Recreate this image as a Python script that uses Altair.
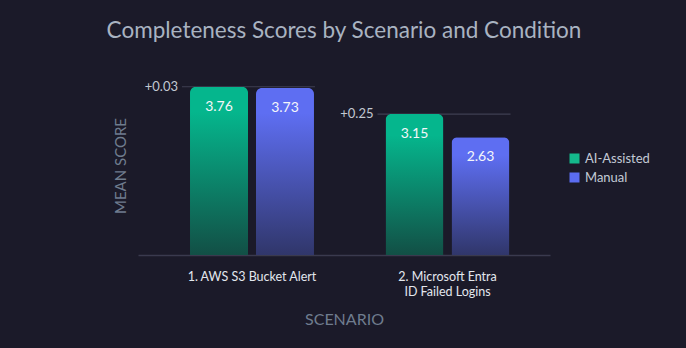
import altair as alt
import pandas as pd

scenarios = ["1. AWS S3 Bucket Alert", "2. Microsoft Entra ID Failed Logins"]
scenario_lines = [["1. AWS S3 Bucket Alert"], ["2. Microsoft Entra", "ID Failed Logins"]]
conditions = ["AI-Assisted", "Manual"]
ai_scores = [3.76, 3.15]
manual_scores = [3.73, 2.63]
delta_labels = ["+0.03", "+0.25"]

FONT = "Lato"
BG = "#1b1a29"
solid_colors = ["#14b88b", "#5b6cf0"]
grad_top = {"AI-Assisted": "#05b68d", "Manual": "#5e6ef2"}
grad_bot = {"AI-Assisted": "#124f45", "Manual": "#30366a"}

rows = []
for s, a, m in zip(scenarios, ai_scores, manual_scores):
    rows.append({"scenario": s, "condition": "AI-Assisted", "score": a})
    rows.append({"scenario": s, "condition": "Manual", "score": m})
df = pd.DataFrame(rows)

ddf = pd.DataFrame({
    "scenario": scenarios,
    "top": [max(a, m) for a, m in zip(ai_scores, manual_scores)],
    "delta": delta_labels,
})

label_expr = " : ".join(
    [f"datum.label == '{s}' ? {lines!r}" for s, lines in zip(scenarios, scenario_lines)]
) + " : datum.label"

x_enc = alt.X(
    "scenario:N", sort=scenarios,
    scale=alt.Scale(paddingInner=0.1, paddingOuter=0.1036, align=0.642),
    axis=alt.Axis(
        title="SCENARIO", labelAngle=0, labelExpr=label_expr, ticks=False,
        labelColor="#e3e7ee", labelFontSize=12.5, labelPadding=15, labelLineHeight=15,
        labelFont=FONT, labelAlign="center", domainColor="#3a3a4e", domainWidth=1.5,
        titleColor="#6f7c8e", titleFontSize=16, titleFontWeight="normal",
        titleFont=FONT, titlePadding=14, grid=False,
    ),
)
y_enc = alt.Y(
    "score:Q", scale=alt.Scale(domain=[0, 4], nice=False, zero=True),
    axis=alt.Axis(
        title="MEAN SCORE", labels=False, ticks=False, domain=False, grid=False,
        titleColor="#6f7c8e", titleFontSize=15, titleFontWeight="normal",
        titleFont=FONT, titlePadding=10,
    ),
)
xo_enc = alt.XOffset(
    "condition:N", sort=conditions,
    scale=alt.Scale(paddingInner=0.121, paddingOuter=0.394),
)

base = alt.Chart(df)

legend_bars = base.mark_bar(opacity=0).encode(
    x=x_enc, y=y_enc, xOffset=xo_enc,
    color=alt.Color(
        "condition:N", sort=conditions,
        scale=alt.Scale(domain=conditions, range=solid_colors),
        legend=alt.Legend(
            title=None, orient="none", legendX=430, legendY=76,
            symbolType="square", symbolSize=100, symbolOpacity=1,
            symbolStrokeWidth=0, labelColor="#c3cad6", labelFontSize=13,
            labelFont=FONT, rowPadding=5,
        ),
    ),
)

grad_layers = []
for c in conditions:
    g = alt.Gradient(
        gradient="linear", x1=0, x2=0, y1=0, y2=1,
        stops=[alt.GradientStop(color=grad_top[c], offset=0),
               alt.GradientStop(color=grad_top[c], offset=0.15),
               alt.GradientStop(color=grad_bot[c], offset=1)],
    )
    grad_layers.append(
        base.transform_filter(alt.datum.condition == c)
        .mark_bar(color=g, cornerRadiusTopLeft=6, cornerRadiusTopRight=6)
        .encode(x=x_enc, y=y_enc, xOffset=xo_enc)
    )

values = base.mark_text(
    color="#f4f6fa", fontSize=14, font=FONT, baseline="middle", dy=20
).encode(x=x_enc, y=y_enc, xOffset=xo_enc, text=alt.Text("score:Q", format=".2f"))

dbase = alt.Chart(ddf)
rules = dbase.mark_rule(color="#3f3f52", strokeWidth=1.2).encode(
    x=alt.X("scenario:N", sort=scenarios, bandPosition=0.102),
    x2=alt.X2("scenario:N", bandPosition=0.858),
    y=alt.Y("top:Q"),
)
deltas = dbase.mark_text(
    color="#c2c8d2", fontSize=13, font=FONT, align="right", baseline="middle", dx=-74
).encode(x=alt.X("scenario:N", sort=scenarios), y=alt.Y("top:Q"), text="delta:N")

chart = alt.layer(legend_bars, rules, *grad_layers, values, deltas).properties(
    width=412, height=179,
    background=BG,
    padding={"left": 138, "top": 76, "right": 136, "bottom": 93},
    autosize=alt.AutoSizeParams(type="none"),
    title=alt.TitleParams(
        "Completeness Scores by Scenario and Condition",
        fontSize=22.5, font=FONT, color="#a9b3c1", fontWeight="normal",
        anchor="middle", offset=34,
    ),
).configure_view(stroke=None)

chart.save("out.html", embed_options={"renderer": "svg", "actions": False})
